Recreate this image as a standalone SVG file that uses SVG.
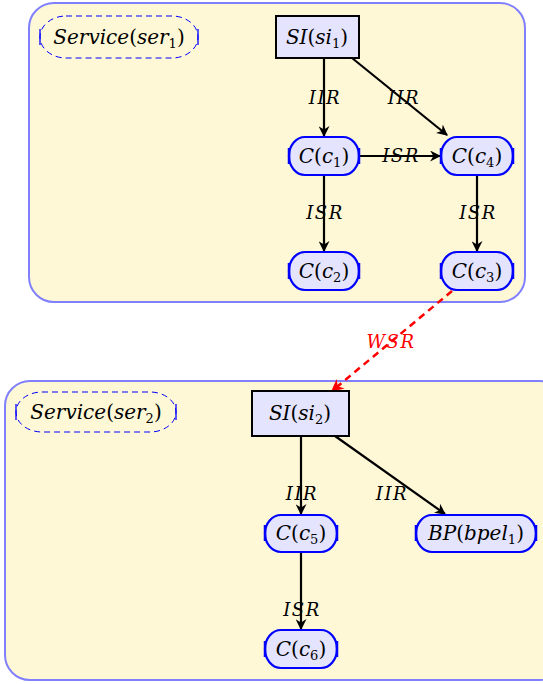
<svg xmlns="http://www.w3.org/2000/svg" width="543" height="684" viewBox="0 0 543 684">
<style>
.cont{fill:#fef8d6;stroke:#8080ff;stroke-width:2}
.nd{fill:#e4e4ff;stroke:#0000ff;stroke-width:2.2}
.bar{stroke:#0000ff;stroke-width:2.5}
.svc{fill:none;stroke:#0000ff;stroke-width:1;stroke-dasharray:6 4}
.sbar{stroke:#0000ff;stroke-width:1.3}
.rect{fill:#e4e4ff;stroke:#000;stroke-width:2}
text{font-family:"DejaVu Serif","Liberation Serif",serif}
.t{font-size:20px;font-style:italic;text-anchor:middle;fill:#000}
.u{font-style:normal}
.s{font-size:13px;font-style:normal}
.e{stroke:#000;stroke-width:2.2;fill:none;marker-end:url(#ah)}
.w{stroke:#ff0000;stroke-width:2.5;fill:none;stroke-dasharray:7 5;marker-end:url(#ahr)}
.lbl{font-size:18px;font-style:italic;text-anchor:middle;fill:#000;letter-spacing:1.5px}
</style>
<defs>
<marker id="ah" viewBox="0 0 10 10" refX="9" refY="5" markerWidth="5" markerHeight="5" orient="auto" markerUnits="strokeWidth">
<path d="M0,0 L10,5 L0,10 L3,5 Z" fill="#000"/>
</marker>
<marker id="ahr" viewBox="0 0 10 10" refX="9" refY="5" markerWidth="5" markerHeight="5" orient="auto" markerUnits="strokeWidth">
<path d="M0,0 L10,5 L0,10 L3,5 Z" fill="#ff0000"/>
</marker>
</defs>
<g id="service1-container"><rect class="cont" x="29" y="3" width="496" height="299" rx="25"/></g>
<g id="service2-container"><rect class="cont" x="5" y="381" width="560" height="299" rx="25"/></g>

<g id="connectors">
<line class="e" x1="324" y1="58" x2="324" y2="136"/>
<line class="e" x1="352" y1="58" x2="447" y2="135"/>
<line class="e" x1="359" y1="156" x2="440" y2="156"/>
<line class="e" x1="324" y1="175" x2="324" y2="251"/>
<line class="e" x1="477" y1="175" x2="477" y2="251"/>
<line class="w" x1="452" y1="291" x2="332" y2="391"/>
<line class="e" x1="301" y1="436" x2="301" y2="514"/>
<line class="e" x1="335" y1="436" x2="445" y2="514"/>
<line class="e" x1="301" y1="552" x2="301" y2="629"/>
<text class="lbl" x="325" y="104">IIR</text>
<text class="lbl" x="404" y="104">IIR</text>
<text class="lbl" x="401" y="162">ISR</text>
<text class="lbl" x="325" y="219">ISR</text>
<text class="lbl" x="478" y="219">ISR</text>
<text class="lbl" x="391" y="348" style="fill:#ff0000">WSR</text>
<text class="lbl" x="302" y="500">IIR</text>
<text class="lbl" x="392" y="500">IIR</text>
<text class="lbl" x="302" y="616">ISR</text>
</g>

<g id="ser1">
<path class="svc" d="M66,16 H172 A26,21 0 0 1 172,58 H66 A26,21 0 0 1 66,16 Z"/>
<line class="sbar" x1="40" y1="29" x2="40" y2="45"/>
<line class="sbar" x1="198" y1="29" x2="198" y2="45"/>
<text class="t" x="119" y="44">Service<tspan class="u">(</tspan>ser<tspan class="s" dy="4">1</tspan><tspan class="u" dy="-4">)</tspan></text>
</g>
<g id="si1">
<rect class="rect" x="276" y="16" width="83" height="42"/>
<text class="t" x="317" y="44">SI<tspan class="u">(</tspan>si<tspan class="s" dy="4">1</tspan><tspan class="u" dy="-4">)</tspan></text>
</g>
<g id="c1">
<path class="nd" d="M305,137 H343 A16,19 0 0 1 343,175 H305 A16,19 0 0 1 305,137 Z"/>
<line class="bar" x1="289" y1="148" x2="289" y2="164"/>
<line class="bar" x1="359" y1="148" x2="359" y2="164"/>
<text class="t" x="324" y="163">C<tspan class="u">(</tspan>c<tspan class="s" dy="4">1</tspan><tspan class="u" dy="-4">)</tspan></text>
</g>
<g id="c4">
<path class="nd" d="M457,137 H497 A16,19 0 0 1 497,175 H457 A16,19 0 0 1 457,137 Z"/>
<line class="bar" x1="441" y1="148" x2="441" y2="164"/>
<line class="bar" x1="513" y1="148" x2="513" y2="164"/>
<text class="t" x="477" y="163">C<tspan class="u">(</tspan>c<tspan class="s" dy="4">4</tspan><tspan class="u" dy="-4">)</tspan></text>
</g>
<g id="c2">
<path class="nd" d="M305,252 H343 A16,19 0 0 1 343,290 H305 A16,19 0 0 1 305,252 Z"/>
<line class="bar" x1="289" y1="263" x2="289" y2="279"/>
<line class="bar" x1="359" y1="263" x2="359" y2="279"/>
<text class="t" x="324" y="278">C<tspan class="u">(</tspan>c<tspan class="s" dy="4">2</tspan><tspan class="u" dy="-4">)</tspan></text>
</g>
<g id="c3">
<path class="nd" d="M457,252 H497 A16,19 0 0 1 497,290 H457 A16,19 0 0 1 457,252 Z"/>
<line class="bar" x1="441" y1="263" x2="441" y2="279"/>
<line class="bar" x1="513" y1="263" x2="513" y2="279"/>
<text class="t" x="477" y="278">C<tspan class="u">(</tspan>c<tspan class="s" dy="4">3</tspan><tspan class="u" dy="-4">)</tspan></text>
</g>

<g id="ser2">
<path class="svc" d="M42,392 H150 A26,20 0 0 1 150,432 H42 A26,20 0 0 1 42,392 Z"/>
<line class="sbar" x1="16" y1="404" x2="16" y2="420"/>
<line class="sbar" x1="176" y1="404" x2="176" y2="420"/>
<text class="t" x="96" y="419">Service<tspan class="u">(</tspan>ser<tspan class="s" dy="4">2</tspan><tspan class="u" dy="-4">)</tspan></text>
</g>
<g id="si2">
<rect class="rect" x="252" y="391" width="97" height="45"/>
<text class="t" x="300" y="420">SI<tspan class="u">(</tspan>si<tspan class="s" dy="4">2</tspan><tspan class="u" dy="-4">)</tspan></text>
</g>
<g id="c5">
<path class="nd" d="M281,515 H321 A16,18.5 0 0 1 321,552 H281 A16,18.5 0 0 1 281,515 Z"/>
<line class="bar" x1="265" y1="525" x2="265" y2="541"/>
<line class="bar" x1="337" y1="525" x2="337" y2="541"/>
<text class="t" x="301" y="540">C<tspan class="u">(</tspan>c<tspan class="s" dy="4">5</tspan><tspan class="u" dy="-4">)</tspan></text>
</g>
<g id="bpel1">
<path class="nd" d="M432,515 H520 A16,18.5 0 0 1 520,552 H432 A16,18.5 0 0 1 432,515 Z"/>
<line class="bar" x1="416" y1="525" x2="416" y2="541"/>
<line class="bar" x1="536" y1="525" x2="536" y2="541"/>
<text class="t" x="476" y="540">BP<tspan class="u">(</tspan>bpel<tspan class="s" dy="4">1</tspan><tspan class="u" dy="-4">)</tspan></text>
</g>
<g id="c6">
<path class="nd" d="M281,630 H321 A16,19 0 0 1 321,668 H281 A16,19 0 0 1 281,630 Z"/>
<line class="bar" x1="265" y1="641" x2="265" y2="657"/>
<line class="bar" x1="337" y1="641" x2="337" y2="657"/>
<text class="t" x="301" y="656">C<tspan class="u">(</tspan>c<tspan class="s" dy="4">6</tspan><tspan class="u" dy="-4">)</tspan></text>
</g>
</svg>
